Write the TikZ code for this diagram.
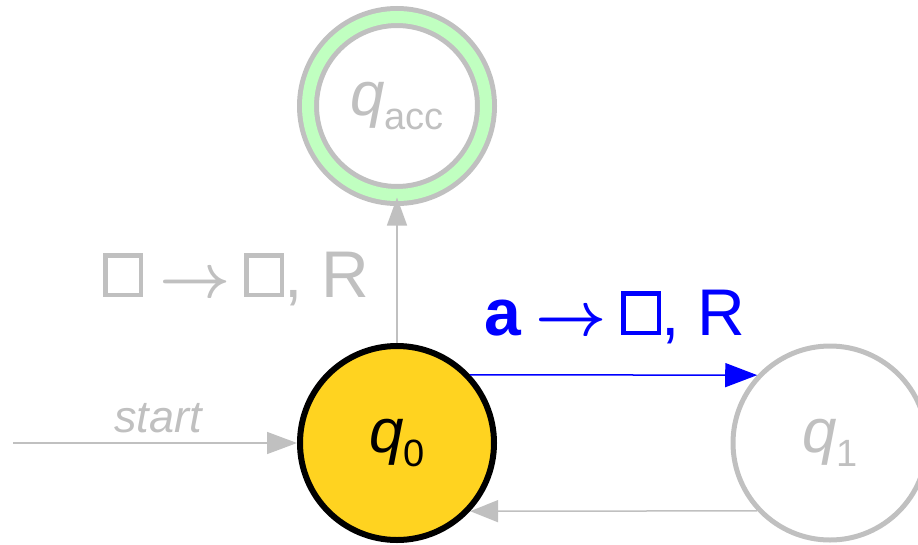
\documentclass[tikz,border=0pt]{standalone}
\usepackage{fontspec}
\setmainfont{Liberation Sans}
\usepackage{graphicx}
\usetikzlibrary{arrows.meta}
\definecolor{lg}{HTML}{C0C0C0}
\definecolor{accgreen}{HTML}{C0FFC0}
\definecolor{qyellow}{HTML}{FFD320}
\newcommand\blanksym{\raisebox{4.5pt}{\fboxsep=0pt\fboxrule=4.5pt\fbox{\rule{0pt}{35pt}\rule{31pt}{0pt}}}}
\newcommand\tarrow{\scalebox{6.2}{\normalsize\boldmath$\rightarrow$}}
\begin{document}
\begin{tikzpicture}[x=1pt,y=-1pt,
  state/.style={circle,minimum size=194pt,inner sep=0pt,line width=5pt,draw=lg},
  bigfont/.style={font=\fontsize{66}{70}\selectfont},
  conn/.style={line width=1.5pt}]
\useasboundingbox (0,0) rectangle (918,544);
\node[state,draw=black,line width=6pt,fill=qyellow] (q0) at (397,443)
  {\fontsize{62}{66}\selectfont\itshape q\raisebox{-14pt}{\fontsize{38}{40}\selectfont\upshape 0}};
\node[state,minimum size=178pt,double=accgreen,double distance=12pt,text=lg] (qacc) at (397,106)
  {\fontsize{62}{66}\selectfont\itshape q\raisebox{-14pt}{\fontsize{38}{40}\selectfont\upshape acc}};
\node[state,text=lg] (q1) at (830,443)
  {\fontsize{62}{66}\selectfont\itshape q\raisebox{-14pt}{\fontsize{38}{40}\selectfont\upshape 1}};
\coordinate (s) at (13,443);
\draw[conn,lg,-{Triangle[length=30pt,width=22pt]}] (s) -- (q0);
\node[anchor=base,text=lg,font=\fontsize{45}{48}\selectfont\itshape] (startlbl) at (158,432) {start};
\draw[conn,lg,-{Triangle[length=28pt,width=20pt]}] (q0) -- (qacc);
\node[anchor=base,text=lg,bigfont,inner sep=0pt] (lblacc) at (236,297)
  {\blanksym\hspace{16pt}\tarrow\hspace{14pt}\blanksym, R};
\draw[conn,blue,-{Triangle[length=32pt,width=24pt]}] (q0.43) -- (q1.137);
\node[anchor=base,text=blue,bigfont,inner sep=0pt] (lbla) at (615,335)
  {\textbf{a}\hspace{14pt}\tarrow\hspace{14pt}\blanksym, R};
\draw[conn,lg,-{Triangle[length=28pt,width=22pt]}] (q1.223) -- (q0.317);
\end{tikzpicture}
\end{document}
